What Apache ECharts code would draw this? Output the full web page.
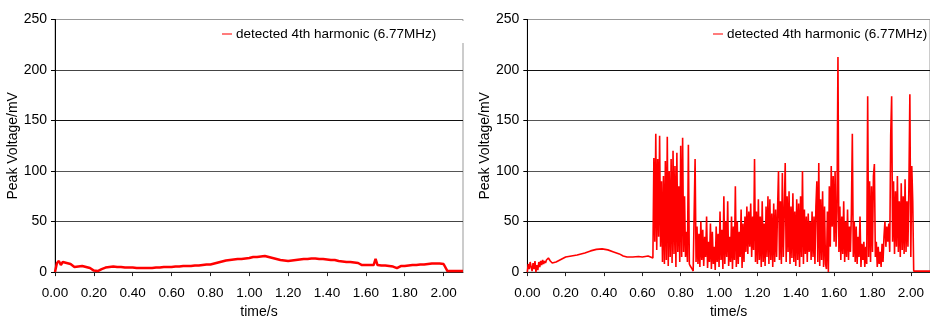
<!DOCTYPE html>
<html>
<head>
<meta charset="utf-8">
<script src="https://cdn.jsdelivr.net/npm/echarts@6/dist/echarts.min.js"></script>
<style>
html,body{margin:0;padding:0;background:#fff;}
#c{width:930px;height:324px;}
</style>
</head>
<body>
<div id="c"></div>
<script>
// ---------- data ----------
const seriesName = 'detected 4th harmonic (6.77MHz)';
const xTickValues = [0, 0.2, 0.4, 0.6, 0.8, 1.0, 1.2, 1.4, 1.6, 1.8, 2.0];
const yTickValues = [0, 50, 100, 150, 200, 250];

// left chart: sampled every 0.01 s from 0.00 to 2.10
const leftStart = 0, leftStep = 0.01;
const leftValues = [
  0, 9, 11, 7, 10, 9, 9, 8, 8, 7,
  5, 5, 5.5, 5, 6, 5.5, 5, 5, 4, 3,
  1.5, 0.5, 1, 2, 3, 4, 4.5, 5, 5, 5.5,
  5.5, 5, 5, 5, 5, 4.5, 4.5, 4.5, 4.5, 4.5,
  4.5, 4, 4, 4, 4, 4, 4, 4, 4, 4,
  4, 4.5, 4.5, 4.5, 4.5, 5, 5, 5, 5, 5,
  5, 5.5, 5.5, 5.5, 5.5, 6, 6, 6, 6, 6,
  6, 6, 6.5, 6.5, 6.5, 7, 7, 7, 7.5, 7.5,
  7.5, 8, 8.5, 9, 9.5, 10, 10.5, 11, 11.5, 12,
  12, 12.5, 12.5, 13, 13, 13, 13, 13, 13.5, 13.5,
  14, 14.5, 15, 15, 15, 15.5, 15.5, 16, 16, 15.5,
  15, 14.5, 14, 13.5, 13, 12.5, 12, 12, 11.5, 11.5,
  11, 11, 11.5, 12, 12, 12.5, 12.5, 13, 13, 13,
  13, 13.5, 13.5, 13.5, 13.5, 13.5, 13, 13, 13, 13,
  12.5, 12.5, 12, 12, 12, 11.5, 11, 11, 10.5, 10.5,
  10, 10, 10, 9.5, 9.5, 9.5, 9, 7.5, 7, 7,
  7, 7, 7, 7, 7, 13, 7, 6.5, 6.5, 6.5,
  6.5, 6.5, 6, 6, 5.5, 5, 4, 5, 6, 6,
  6, 6.5, 6.5, 6.5, 7, 7, 7, 7, 7.5, 7.5,
  7.5, 8, 8, 8, 8.5, 8.5, 8.5, 8.5, 8.5, 8.5,
  8, 7.5, 1, 1, 1, 1, 1, 1, 1, 1, 1
];

// right chart: early smooth part
const rightEarlyTimes = [0, 0.005, 0.01, 0.015, 0.02, 0.025, 0.03, 0.035, 0.04, 0.045,
  0.05, 0.055, 0.06, 0.065, 0.07, 0.075, 0.08, 0.085, 0.09, 0.095,
  0.1, 0.11, 0.12, 0.13, 0.14, 0.15, 0.17, 0.2, 0.23, 0.26,
  0.3, 0.33, 0.36, 0.39, 0.42, 0.45, 0.48, 0.5, 0.52, 0.55,
  0.58, 0.6, 0.63, 0.655];
const rightEarlyValues = [0, 8, 3, 10, 5, 1, 9, 3, 11, 0,
  7, 2, 10, 5, 11, 7, 12, 8, 11, 9,
  12, 14, 11, 9, 9, 10, 12, 15, 16, 17,
  19, 21, 22.5, 23, 22, 20, 18, 16, 15, 15,
  15.5, 15, 16, 14];

// right chart: noisy part, sampled every 0.005 s from 0.660 s
const rightNoiseStart = 0.66, rightNoiseStep = 0.005;
const rightNoiseValues = [
  113, 30, 137, 22, 112, 35, 135, 25, 90, 10,
  95, 8, 110, 12, 134, 6, 100, 15, 112, 9,
  120, 18, 105, 5, 118, 20, 85, 10, 125, 15,
  133, 20, 75, 15, 40, 10, 126, 8, 6, 5,
  3, 1, 0, 112, 10, 45, 8, 38, 5, 50,
  12, 42, 6, 35, 15, 55, 4, 30, 10, 48,
  3, 40, 8, 25, 2, 45, 10, 38, 5, 60,
  12, 42, 3, 75, 8, 50, 15, 70, 6, 35,
  10, 55, 3, 45, 12, 85, 5, 50, 8, 40,
  15, 62, 4, 48, 10, 55, 20, 65, 18, 60,
  25, 68, 15, 55, 22, 112, 10, 60, 8, 72,
  12, 55, 5, 70, 10, 48, 6, 65, 15, 75,
  8, 72, 12, 58, 5, 68, 10, 62, 15, 62,
  100, 12, 70, 8, 98, 15, 60, 108, 10, 75,
  20, 80, 8, 65, 14, 78, 10, 60, 6, 72,
  12, 68, 5, 75, 15, 100, 8, 62, 18, 55,
  10, 58, 20, 50, 12, 60, 15, 55, 8, 65,
  90, 10, 108, 6, 72, 12, 80, 5, 65, 8,
  3, 60, 0, 85, 25, 105, 45, 95, 30, 100,
  25, 60, 213, 20, 65, 12, 55, 18, 70, 10,
  50, 15, 62, 12, 45, 20, 58, 137, 15, 50,
  10, 45, 8, 35, 15, 55, 5, 28, 12, 30,
  5, 25, 8, 174, 15, 90, 10, 85, 20, 95,
  107, 15, 30, 5, 25, 8, 20, 5, 28, 10,
  35, 50, 25, 45, 30, 48, 20, 135, 174, 30,
  90, 18, 80, 25, 95, 20, 70, 15, 88, 22,
  75, 18, 92, 20, 70, 25, 85, 176, 15, 105,
  70, 1
];
const rightTailTimes = [2.02, 2.1];
const rightTailValues = [1, 1];

// ---------- build ----------
const r3 = v => Math.round(v * 1000) / 1000;
const leftData = leftValues.map((v, i) => [r3(leftStart + i * leftStep), v]);
const rightData = []
  .concat(rightEarlyTimes.map((t, i) => [t, rightEarlyValues[i]]))
  .concat(rightNoiseValues.map((v, i) => [r3(rightNoiseStart + i * rightNoiseStep), v]))
  .concat(rightTailTimes.map((t, i) => [t, rightTailValues[i]]));

const FONT = '"Liberation Sans", Arial, sans-serif';
const RED = '#ff0000';

function xAxis(gi) {
  return {
    type: 'value', gridIndex: gi, min: 0, max: 2.1,
    name: 'time/s', nameLocation: 'middle', nameGap: 32,
    nameTextStyle: { color: '#000', fontSize: 14, fontFamily: FONT },
    axisLine: { show: true, onZero: false, lineStyle: { color: '#222', width: 1 } },
    axisTick: { show: true, inside: false, length: 4, customValues: xTickValues, lineStyle: { color: '#222' } },
    axisLabel: { customValues: xTickValues, margin: 14, color: '#000', fontSize: 13.5, fontFamily: FONT,
      formatter: v => v.toFixed(2) },
    splitLine: { show: false }
  };
}
function yAxis(gi, colors) {
  return {
    type: 'value', gridIndex: gi, min: 0, max: 250, interval: 50,
    name: 'Peak Voltage/mV', nameLocation: 'middle', nameGap: 29,
    nameTextStyle: { color: '#000', fontSize: 14, fontFamily: FONT },
    axisLine: { show: true, lineStyle: { color: '#000', width: 1 } },
    axisTick: { show: true, inside: false, length: 4, lineStyle: { color: '#000' } },
    axisLabel: { margin: 8, color: '#000', fontSize: 14, fontFamily: FONT },
    splitLine: { show: true, lineStyle: { color: colors, width: 1 } }
  };
}

const legendBase = {
  top: 27, icon: 'rect', itemWidth: 10, itemHeight: 1.5, itemGap: 4, padding: 0,
  itemStyle: { color: '#ff5050' },
  textStyle: { color: '#000', fontSize: 13.5, fontFamily: FONT, lineHeight: 14, padding: [0, 0, 0, -1] },
  data: [seriesName]
};

const chart = echarts.init(document.getElementById('c'), null, { renderer: 'canvas' });
chart.setOption({
  animation: false,
  backgroundColor: '#fff',
  grid: [
    { left: 55, top: 19.5, width: 408, height: 256.5, show: true, borderColor: '#999', borderWidth: 1, backgroundColor: 'transparent' },
    { left: 527.3, top: 19.5, width: 409, height: 253.2, show: true, borderColor: '#999', borderWidth: 1, backgroundColor: 'transparent' }
  ],
  legend: [
    Object.assign({}, legendBase, { left: 222 }),
    Object.assign({}, legendBase, { left: 713 })
  ],
  graphic: [
    { type: 'rect', z: 100, shape: { x: 457, y: 21, width: 10, height: 22 }, style: { fill: '#fff' } }
  ],
  xAxis: [xAxis(0), xAxis(1)],
  yAxis: [
    yAxis(0, ['#000', '#444', '#555', '#111', '#444', '#999']),
    yAxis(1, ['#000', '#111', '#555', '#555', '#111', '#999'])
  ],
  series: [
    { name: seriesName, type: 'line', xAxisIndex: 0, yAxisIndex: 0, data: leftData,
      showSymbol: false, symbol: 'none', lineStyle: { color: RED, width: 2.5 }, itemStyle: { color: RED } },
    { name: seriesName, type: 'line', xAxisIndex: 1, yAxisIndex: 1, data: rightData,
      showSymbol: false, symbol: 'none', lineStyle: { color: RED, width: 1.6 }, itemStyle: { color: RED } }
  ]
});
</script>
</body>
</html>
